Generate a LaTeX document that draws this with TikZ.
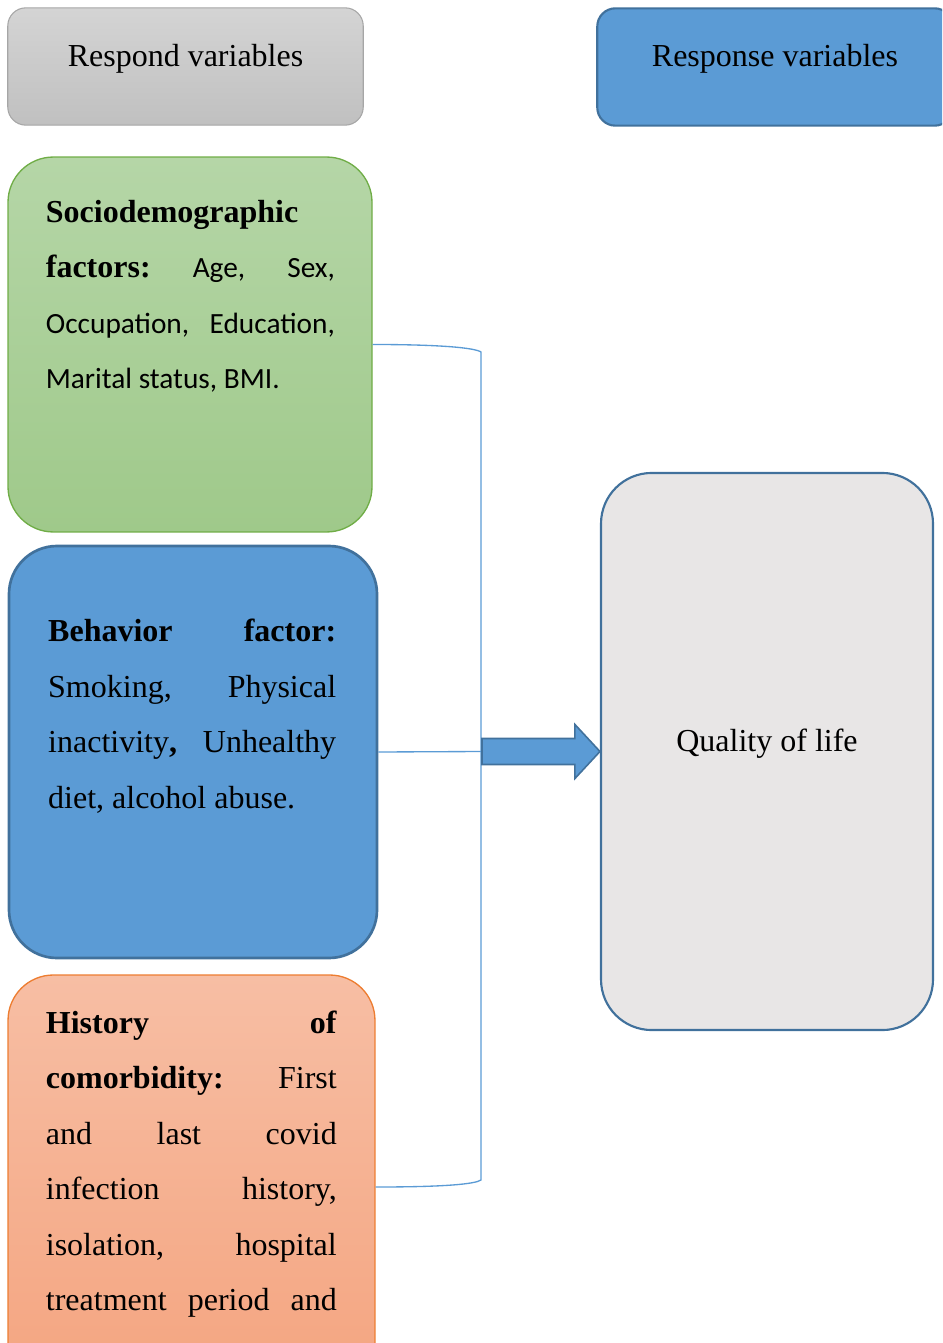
\documentclass[tikz,border=0pt]{standalone}
\usepackage{fontspec}
\setmainfont{Liberation Serif}
\newfontfamily\carlito{Carlito}
\usepackage{xcolor}
\usetikzlibrary{positioning,calc}

\definecolor{bluefill}{HTML}{5B9BD5}
\definecolor{blueline}{HTML}{41719C}
\definecolor{greytop}{HTML}{D4D4D4}
\definecolor{greybot}{HTML}{C0C0C0}
\definecolor{greyline}{HTML}{A6A6A6}
\definecolor{greentop}{HTML}{B5D6A7}
\definecolor{greenbot}{HTML}{9FC98A}
\definecolor{greenline}{HTML}{70AD47}
\definecolor{orangetop}{HTML}{F7BEA4}
\definecolor{orangebot}{HTML}{F4A47F}
\definecolor{orangeline}{HTML}{ED7D31}
\definecolor{qolfill}{HTML}{E8E6E6}

\newlength\jw
\newcommand\calib[1]{{\carlito\fontsize{11}{20.8}\selectfont #1}}
\newcommand\jline[1]{\leavevmode\hbox to \jw{#1}}
\frenchspacing

\begin{document}
\begin{tikzpicture}[x=0.375pt,y=-0.375pt,
  box/.style={rounded corners=17pt,inner sep=0pt},
  head/.style={box,rounded corners=6.8pt,minimum width=133.3pt,minimum height=44pt},
  txt/.style={anchor=north west,inner sep=0pt,align=flush left,text width=#1,/utils/exec={\global\jw=#1},font=\fontsize{12}{20.8}\selectfont\frenchspacing},
  lbl/.style={anchor=base,inner sep=0pt,font=\fontsize{12}{14}\selectfont},
  bracket/.style={draw=bluefill,line width=0.5pt},
  blockarr/.style={draw=blueline,fill=bluefill,line width=0.6pt,line join=miter}]
\clip (0,0) rectangle (942,1343);

% headings
\node[head,top color=greytop,bottom color=greybot,draw=greyline,line width=0.4pt] (resp) at (185.5,66.5) {};
\node[head,fill=bluefill,draw=blueline,line width=0.8pt] (rspn) at (775,67) {};
\node[lbl] (resptxt) at (resp.center) {Respond variables};
\node[lbl] (rspntxt) at (rspn.center) {Response variables};

% factor boxes
\node[box,minimum width=136.5pt,minimum height=140.6pt,top color=greentop,bottom color=greenbot,draw=greenline,line width=0.5pt] (soc) at (190,344.5) {};
\node[box,rounded corners=18pt,minimum width=138pt,minimum height=154.5pt,fill=bluefill,draw=blueline,line width=1pt] (beh) at (193,752) {};
\node[box,minimum width=137.6pt,minimum height=159pt,top color=orangetop,bottom color=orangebot,draw=orangeline,line width=0.5pt] (hist) at (191.5,1187) {};
\node[box,rounded corners=19pt,minimum width=124.5pt,minimum height=208.9pt,fill=qolfill,draw=blueline,line width=0.8pt] (qol) at (767,751.5) {};

\node[txt=108.4pt] (soctxt) at ([shift={(38,43)}]soc.north west) {%
  \textbf{Sociodemographic}\\
  \jline{\textbf{factors:}\hfill\calib{Age,}\hfill\calib{Sex,}}\\
  \jline{\calib{Occupation,}\hfill\calib{Education,}}\\
  \calib{Marital status, BMI.}};
\node[txt=108pt] (behtxt) at ([shift={(40,74)}]beh.north west) {%
  \jline{\textbf{Behavior}\hfill\textbf{factor:}}\\
  \jline{Smoking,\hfill Physical}\\
  \jline{inactivity\textbf{,}\hfill Unhealthy}\\
  diet, alcohol abuse.};
\node[txt=109.1pt] (histtxt) at ([shift={(38,36)}]hist.north west) {%
  \jline{\textbf{History}\hfill\textbf{of}}\\
  \jline{\textbf{comorbidity:}\hfill First}\\
  \jline{and\hfill last\hfill covid}\\
  \jline{infection\hfill history,}\\
  \jline{isolation,\hfill hospital}\\
  \jline{treatment\hfill period\hfill and}};
\node[lbl] (qoltxt) at (qol.center) {Quality of life};

% connectors
\coordinate (brtop) at (481,352);
\coordinate (brbot) at (481,1180);
\coordinate (brmid) at (brtop |- qol.west);
\draw[bracket] (soc.east) .. controls +(70,0) and +(-6,-4) .. (brtop) -- (brbot) .. controls +(-6,4) and +(70,0) .. (hist.east);
\draw[bracket] (beh.east) -- (brmid);
\draw[blockarr] ([shift={(1,-13)}]brmid) -- ([shift={(-25,-13)}]qol.west) -- ([shift={(-25,-27)}]qol.west) -- (qol.west)
  -- ([shift={(-25,27)}]qol.west) -- ([shift={(-25,13)}]qol.west) -- ([shift={(1,13)}]brmid) -- cycle;
\end{tikzpicture}
\end{document}
